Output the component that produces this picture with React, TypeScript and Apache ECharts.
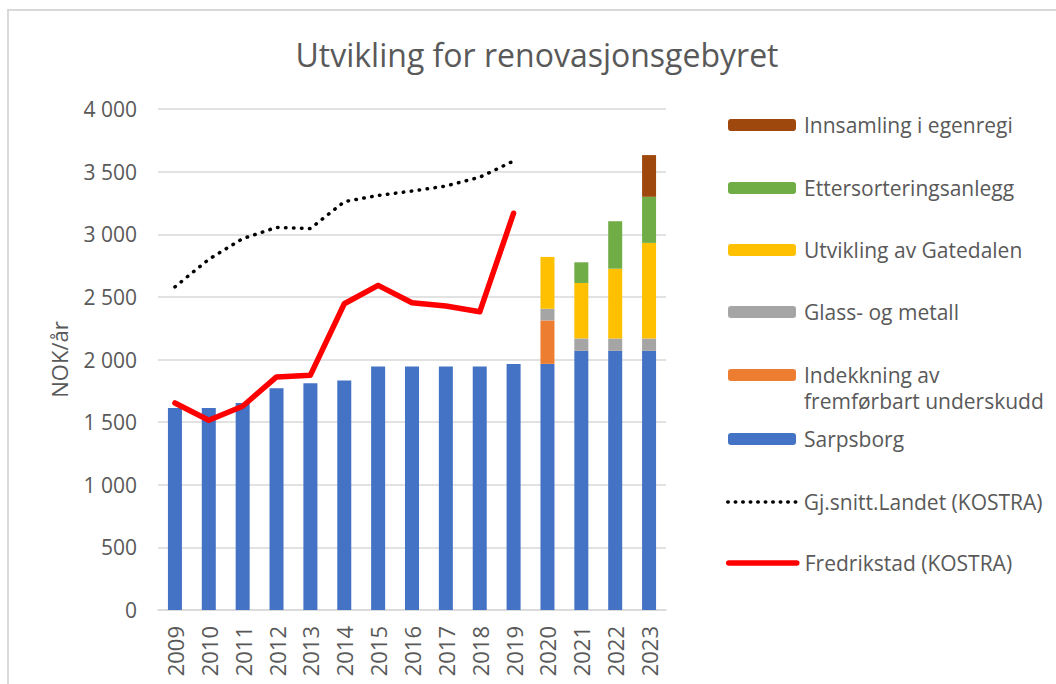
import React, { useEffect, useRef } from "react";
import * as echarts from "echarts";

const years = ["2009","2010","2011","2012","2013","2014","2015","2016","2017","2018","2019","2020","2021","2022","2023"];
const sarpsborg = [1613,1613,1653,1771,1811,1832,1944,1944,1944,1944,1965,1965,2069,2069,2069];
const indekkning = [null,null,null,null,null,null,null,null,null,null,null,347,null,null,null];
const glass = [null,null,null,null,null,null,null,null,null,null,null,93,99,99,99];
const utvikling = [null,null,null,null,null,null,null,null,null,null,null,414,443,557,763];
const ettersortering = [null,null,null,null,null,null,null,null,null,null,null,null,165,379,368];
const innsamling = [null,null,null,null,null,null,null,null,null,null,null,null,null,null,333];
const landet = [2580,2800,2965,3055,3045,3260,3310,3345,3385,3455,3585,null,null,null,null];
const fredrikstad = [1653,1515,1627,1861,1875,2445,2592,2453,2427,2381,3168,null,null,null,null];

const FONT = "Open Sans";
const GREY = "#595959";

export default function App() {
  const ref = useRef<HTMLDivElement>(null);
  useEffect(() => {
    document.body.style.margin = "0";
    const chart = echarts.init(ref.current!, undefined, { renderer: "svg" });
    const barSeries = (name: string, data: any[], color: string) => ({
      name, type: "bar", stack: "a", data, barWidth: 14,
      itemStyle: { color }, emphasis: { disabled: true },
    });
    const legendAt = (name: string, yc: number, extra: any = {}) => ({
      data: [name], left: 728, top: yc - 13, orient: "vertical", padding: 0,
      itemWidth: 68, itemHeight: 12, selectedMode: false,
      textStyle: { fontFamily: FONT, fontSize: 21, color: GREY, lineHeight: 26, padding: [0, 0, 0, 3] },
      ...extra,
    });
    chart.setOption({
      animation: false,
      title: {
        text: "Utvikling for renovasjonsgebyret", left: 537, top: 38, textAlign: "center", padding: 0,
        textStyle: { fontFamily: FONT, fontSize: 32, fontWeight: "normal", color: GREY },
      },
      grid: { left: 158, right: 390, top: 109, bottom: 74, containLabel: false },
      xAxis: {
        type: "category", data: years,
        axisLine: { lineStyle: { color: "#D9D9D9", width: 1.5 } },
        axisTick: { show: false },
        axisLabel: { rotate: 90, margin: 16, fontFamily: FONT, fontSize: 22, color: GREY },
      },
      yAxis: {
        type: "value", min: 0, max: 4000, interval: 500,
        name: "NOK/år", nameLocation: "middle", nameRotate: 90, nameGap: 88,
        nameTextStyle: { fontFamily: FONT, fontSize: 22, color: GREY },
        axisLine: { show: false }, axisTick: { show: false },
        splitLine: { lineStyle: { color: "#D9D9D9", width: 1.5 } },
        axisLabel: {
          margin: 21, fontFamily: FONT, fontSize: 21, color: GREY,
          formatter: (v: number) => v >= 1000 ? `${Math.floor(v / 1000)} ${String(v % 1000).padStart(3, "0")}` : String(v),
        },
      },
      legend: [
        legendAt("Innsamling i egenregi", 125),
        legendAt("Ettersorteringsanlegg", 188),
        legendAt("Utvikling av Gatedalen", 250),
        legendAt("Glass- og metall", 312),
        legendAt("Indekkning av fremførbart underskudd", 375, { formatter: () => "Indekkning av" }),
        legendAt("Sarpsborg", 439),
        legendAt("Gj.snitt.Landet (KOSTRA)", 502, {
          left: 726,
          itemStyle: { opacity: 0 },
          lineStyle: { color: "#000000", width: 3.5, type: [0.5, 7], cap: "round" },
        }),
        legendAt("Fredrikstad (KOSTRA)", 563, {
          left: 726,
          itemStyle: { opacity: 0 },
          lineStyle: { color: "#FF0000", width: 5.5, cap: "round" },
        }),
      ],
      graphic: [
        { type: "line", shape: { x1: 7, y1: 10, x2: 1056, y2: 10 }, style: { stroke: "#D9D9D9", lineWidth: 2 } },
        { type: "line", shape: { x1: 8, y1: 10, x2: 8, y2: 684 }, style: { stroke: "#D9D9D9", lineWidth: 2 } },
        {
          type: "text", left: 804, top: 390,
          style: { text: "fremførbart underskudd", fontFamily: FONT, fontSize: 21, fill: GREY },
        },
      ],
      series: [
        barSeries("Sarpsborg", sarpsborg, "#4472C4"),
        barSeries("Indekkning av fremførbart underskudd", indekkning, "#ED7D31"),
        barSeries("Glass- og metall", glass, "#A5A5A5"),
        barSeries("Utvikling av Gatedalen", utvikling, "#FFC000"),
        barSeries("Ettersorteringsanlegg", ettersortering, "#70AD47"),
        barSeries("Innsamling i egenregi", innsamling, "#9E480E"),
        {
          name: "Gj.snitt.Landet (KOSTRA)", type: "line", data: landet, symbol: "none", z: 3,
          itemStyle: { color: "#000000" },
          lineStyle: { color: "#000000", width: 3.5, type: [0.5, 7.5], cap: "round" },
          emphasis: { disabled: true },
        },
        {
          name: "Fredrikstad (KOSTRA)", type: "line", data: fredrikstad, symbol: "none", z: 4,
          itemStyle: { color: "#FF0000" },
          lineStyle: { color: "#FF0000", width: 5.5, cap: "round", join: "round" },
          emphasis: { disabled: true },
        },
      ],
    });
    return () => chart.dispose();
  }, []);
  return <div ref={ref} style={{ width: 1056, height: 684 }} />;
}
